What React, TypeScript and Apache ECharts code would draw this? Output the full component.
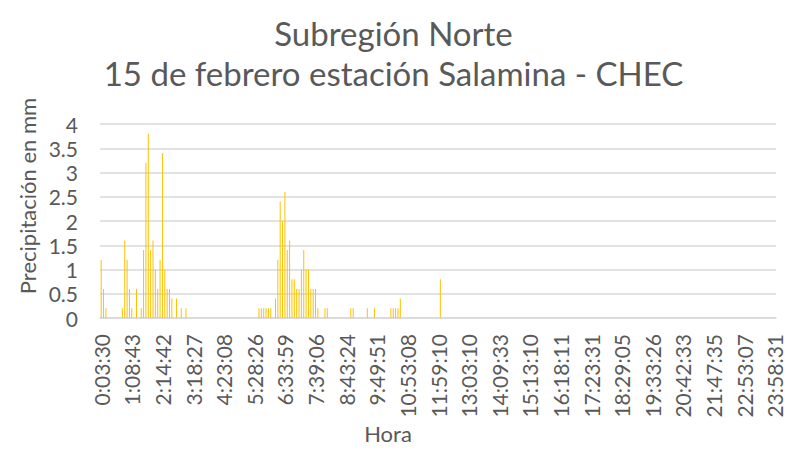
import React, { useEffect, useRef } from "react";
import * as echarts from "echarts";

const TITLE = "Subregión Norte";
const SUBTITLE = "15 de febrero estación Salamina - CHEC";
const Y_NAME = "Precipitación en mm";
const X_NAME = "Hora";

// Tick labels shown on the category axis (every 13th reading)
const TICK_LABELS = [
  "0:03:30", "1:08:43", "2:14:42", "3:18:27", "4:23:08", "5:28:26",
  "6:33:59", "7:39:06", "8:43:24", "9:49:51", "10:53:08", "11:59:10",
  "13:03:10", "14:09:33", "15:13:10", "16:18:11", "17:23:31", "18:29:05",
  "19:33:26", "20:42:33", "21:47:35", "22:53:07", "23:58:31",
];
const LABEL_STEP = 13;

// Precipitation (mm) per reading; one row per 13 readings
const PRECIP = [
  1.2, 0.6, 0.2, 0, 0, 0, 0, 0, 0, 0.2, 1.6, 1.2, 0.6,
  0.2, 0, 0.6, 0, 0.2, 1.4, 3.2, 3.8, 1.4, 1.6, 1.0, 0.6, 1.2,
  3.4, 1.0, 0.6, 0.6, 0.4, 0, 0.4, 0, 0.2, 0, 0.2, 0, 0,
  0, 0, 0, 0, 0, 0, 0, 0, 0, 0, 0, 0, 0,
  0, 0, 0, 0, 0, 0, 0, 0, 0, 0, 0, 0, 0,
  0, 0, 0.2, 0.2, 0.2, 0.2, 0.2, 0.2, 0, 0.4, 1.2, 2.4, 2.0,
  2.6, 1.4, 1.6, 0.8, 0.8, 0.6, 0.6, 1.0, 1.4, 1.0, 1.0, 0.6, 0.6,
  0.6, 0.2, 0, 0, 0.2, 0.2, 0, 0, 0, 0, 0, 0, 0,
  0, 0, 0.2, 0.2, 0, 0, 0, 0, 0, 0.2, 0, 0, 0.2,
  0, 0, 0, 0, 0, 0, 0.2, 0.2, 0.2, 0.2, 0.4, 0, 0,
  0, 0, 0, 0, 0, 0, 0, 0, 0, 0, 0, 0, 0,
  0, 0.8, 0, 0, 0, 0, 0, 0, 0, 0, 0, 0, 0,
  0, 0, 0, 0, 0, 0, 0, 0, 0, 0, 0, 0, 0,
  0, 0, 0, 0, 0, 0, 0, 0, 0, 0, 0, 0, 0,
  0, 0, 0, 0, 0, 0, 0, 0, 0, 0, 0, 0, 0,
  0, 0, 0, 0, 0, 0, 0, 0, 0, 0, 0, 0, 0,
  0, 0, 0, 0, 0, 0, 0, 0, 0, 0, 0, 0, 0,
  0, 0, 0, 0, 0, 0, 0, 0, 0, 0, 0, 0, 0,
  0, 0, 0, 0, 0, 0, 0, 0, 0, 0, 0, 0, 0,
  0, 0, 0, 0, 0, 0, 0, 0, 0, 0, 0, 0, 0,
  0, 0, 0, 0, 0, 0, 0, 0, 0, 0, 0, 0, 0,
  0, 0, 0, 0, 0, 0, 0, 0, 0, 0, 0, 0, 0,
  0,
];

function toSec(t: string): number {
  const [h, m, s] = t.split(":").map(Number);
  return h * 3600 + m * 60 + s;
}
function fmt(sec: number): string {
  const h = Math.floor(sec / 3600);
  const m = Math.floor((sec % 3600) / 60);
  const s = Math.floor(sec % 60);
  return `${h}:${String(m).padStart(2, "0")}:${String(s).padStart(2, "0")}`;
}

// Category names: tick labels at every 13th slot, reading times in between
const CATEGORIES: string[] = PRECIP.map((_, i) => {
  const k = Math.floor(i / LABEL_STEP);
  const r = i % LABEL_STEP;
  if (r === 0) return TICK_LABELS[k];
  const a = toSec(TICK_LABELS[k]);
  const b = toSec(TICK_LABELS[Math.min(k + 1, TICK_LABELS.length - 1)]);
  return fmt(a + ((b - a) * r) / LABEL_STEP);
});

const FONT = "Lato, 'Noto Sans', sans-serif";
const GRAY = "#595959";

const titleStyle = {
  color: GRAY,
  fontFamily: FONT,
  fontSize: 33,
  fontWeight: "normal",
  lineHeight: 34,
};

export default function App() {
  const ref = useRef<HTMLDivElement>(null);
  useEffect(() => {
    document.body.style.margin = "0";
    const chart = echarts.init(ref.current!, undefined, { renderer: "svg" });
    chart.setOption({
      animation: false,
      backgroundColor: "#ffffff",
      title: [
        { text: TITLE, left: "center", top: 16, padding: 0, textStyle: titleStyle },
        { text: SUBTITLE, left: "center", top: 56, padding: 0, textStyle: titleStyle },
      ],
      graphic: [
        {
          type: "text",
          x: 27,
          y: 196,
          rotation: Math.PI / 2,
          style: {
            text: Y_NAME,
            fill: GRAY,
            font: `22px ${FONT}`,
            textAlign: "center",
            textVerticalAlign: "middle",
          },
        },
        {
          type: "text",
          x: 388,
          y: 433,
          style: {
            text: X_NAME,
            fill: GRAY,
            font: `22px ${FONT}`,
            textAlign: "center",
            textVerticalAlign: "middle",
          },
        },
      ],
      grid: { left: 100, right: 11, top: 124, bottom: 140, containLabel: false },
      xAxis: {
        type: "category",
        data: CATEGORIES,
        boundaryGap: true,
        axisLine: { lineStyle: { color: "#D9D9D9", width: 1.5 } },
        axisTick: { show: false },
        axisLabel: {
          interval: LABEL_STEP - 1,
          rotate: 90,
          margin: 16,
          color: GRAY,
          fontFamily: FONT,
          fontSize: 21,
        },
      },
      yAxis: {
        type: "value",
        min: 0,
        max: 4,
        interval: 0.5,
        axisLine: { show: false },
        axisTick: { show: false },
        axisLabel: { margin: 22, color: GRAY, fontFamily: FONT, fontSize: 21 },
        splitLine: { lineStyle: { color: "#D9D9D9", width: 1.5 } },
      },
      series: [
        {
          type: "bar",
          data: PRECIP,
          barWidth: 1,
          itemStyle: { color: "#FFC000" },
        },
      ],
    });
    return () => chart.dispose();
  }, []);
  return <div ref={ref} style={{ width: 787, height: 458 }} />;
}
